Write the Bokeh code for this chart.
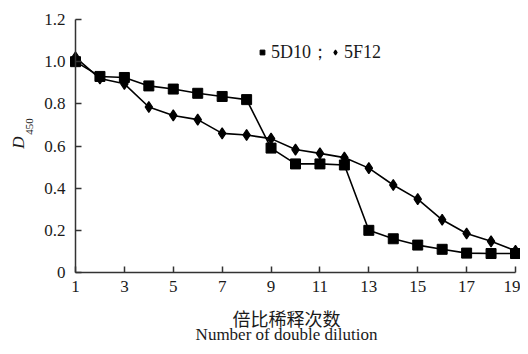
import math
from bokeh.plotting import figure
from bokeh.models import (Range1d, FixedTicker, CustomJSTickFormatter, Label,
                          Legend, LegendItem)
from bokeh.embed import file_html
from bokeh.resources import INLINE

dilution = list(range(1, 20))
d10 = [1.00, 0.93, 0.925, 0.885, 0.87, 0.85, 0.835, 0.82, 0.59, 0.515,
       0.515, 0.51, 0.20, 0.16, 0.13, 0.11, 0.092, 0.09, 0.09]
f12 = [1.02, 0.92, 0.895, 0.785, 0.745, 0.725, 0.66, 0.652, 0.635, 0.583,
       0.565, 0.545, 0.495, 0.415, 0.348, 0.25, 0.185, 0.148, 0.103]
x_ticks = [1, 3, 5, 7, 9, 11, 13, 15, 17, 19]
y_ticks = [0, 0.2, 0.4, 0.6, 0.8, 1.0, 1.2]
series_names = ["5D10；", "5F12"]
x_title_cn = "倍比稀释次数"
x_title_en = "Number of double dilution"

SERIF = "Liberation Serif"
W, H = 520, 346
# pixel layout of the axes box (x=1 .. 19, y=0 .. 1.2)
X0_PX, X1_PX = 75.0, 515.0
Y0_PX, Y1_PX = 272.0, 19.0
xs = (X1_PX - X0_PX) / (x_ticks[-1] - x_ticks[0])
ys = (Y0_PX - Y1_PX) / (y_ticks[-1] - y_ticks[0])
x_start = x_ticks[0] - X0_PX / xs
x_end = x_ticks[-1] + (W - X1_PX) / xs
y_start = -(H - Y0_PX) / ys
y_end = Y0_PX / ys


def dx(px):
    return x_ticks[0] + (px - X0_PX) / xs


def dy(py):
    return (Y0_PX - py) / ys


p = figure(width=W, height=H, output_backend="svg", toolbar_location=None,
           x_range=Range1d(x_start, x_end), y_range=Range1d(y_start, y_end),
           min_border=0)
p.outline_line_color = None
p.xgrid.visible = False
p.ygrid.visible = False
p.background_fill_color = "white"
p.border_fill_color = "white"

for ax in (p.xaxis[0], p.yaxis[0]):
    ax.axis_line_color = "#333333"
    ax.axis_line_width = 1.5
    ax.major_tick_line_color = "#333333"
    ax.major_tick_line_width = 1.5
    ax.major_tick_in = 6
    ax.major_tick_out = 0
    ax.minor_tick_line_color = None
    ax.major_label_text_font = SERIF
    ax.major_label_text_font_size = "17px"
    ax.major_label_text_color = "#1a1a1a"

p.xaxis[0].ticker = FixedTicker(ticks=x_ticks)
p.xaxis[0].bounds = (x_ticks[0], x_ticks[-1])
p.xaxis[0].fixed_location = y_ticks[0]
p.xaxis[0].major_label_standoff = 8

p.yaxis[0].ticker = FixedTicker(ticks=y_ticks)
p.yaxis[0].bounds = (y_ticks[0], y_ticks[-1])
p.yaxis[0].fixed_location = x_ticks[0]
p.yaxis[0].major_label_standoff = 10
p.yaxis[0].formatter = CustomJSTickFormatter(
    code="return Math.abs(tick) < 1e-9 ? '0' : tick.toFixed(1);")

p.line(dilution, d10, line_color="black", line_width=1.6)
p.line(dilution, f12, line_color="black", line_width=1.6)
sq = p.scatter(dilution, d10, marker="square", size=10, fill_color="black",
               line_color="black")
dm = p.scatter(dilution, f12, marker="diamond", size=11, fill_color="black",
               line_color="black", line_width=1.2)

legend = Legend(items=[LegendItem(label=series_names[0], renderers=[sq]),
                       LegendItem(label=series_names[1], renderers=[dm])],
                orientation="horizontal", location=(256, H - 64),
                padding=0, margin=0, spacing=0, label_standoff=3,
                glyph_width=12, glyph_height=12,
                border_line_color=None, background_fill_alpha=0,
                label_text_font=SERIF, label_text_font_size="18px",
                label_text_color="#1a1a1a")
p.add_layout(legend, "center")

p.add_layout(Label(x=dx(286), y=dy(317), text=x_title_cn, text_align="center",
                   text_baseline="middle", text_font="Noto Sans CJK SC",
                   text_font_size="18px", text_color="#1a1a1a"))
p.add_layout(Label(x=dx(286), y=dy(334), text=x_title_en, text_align="center",
                   text_baseline="middle", text_font=SERIF,
                   text_font_size="17px", text_color="#1a1a1a"))
p.add_layout(Label(x=dx(18), y=dy(142), text="D", angle=math.pi / 2,
                   text_align="center", text_baseline="middle",
                   text_font=SERIF, text_font_style="italic",
                   text_font_size="17px", text_color="#1a1a1a"))
p.add_layout(Label(x=dx(29), y=dy(126), text="450", angle=math.pi / 2,
                   text_align="center", text_baseline="middle",
                   text_font=SERIF, text_font_size="11px",
                   text_color="#1a1a1a"))

open("out.html", "w").write(file_html(p, INLINE))
